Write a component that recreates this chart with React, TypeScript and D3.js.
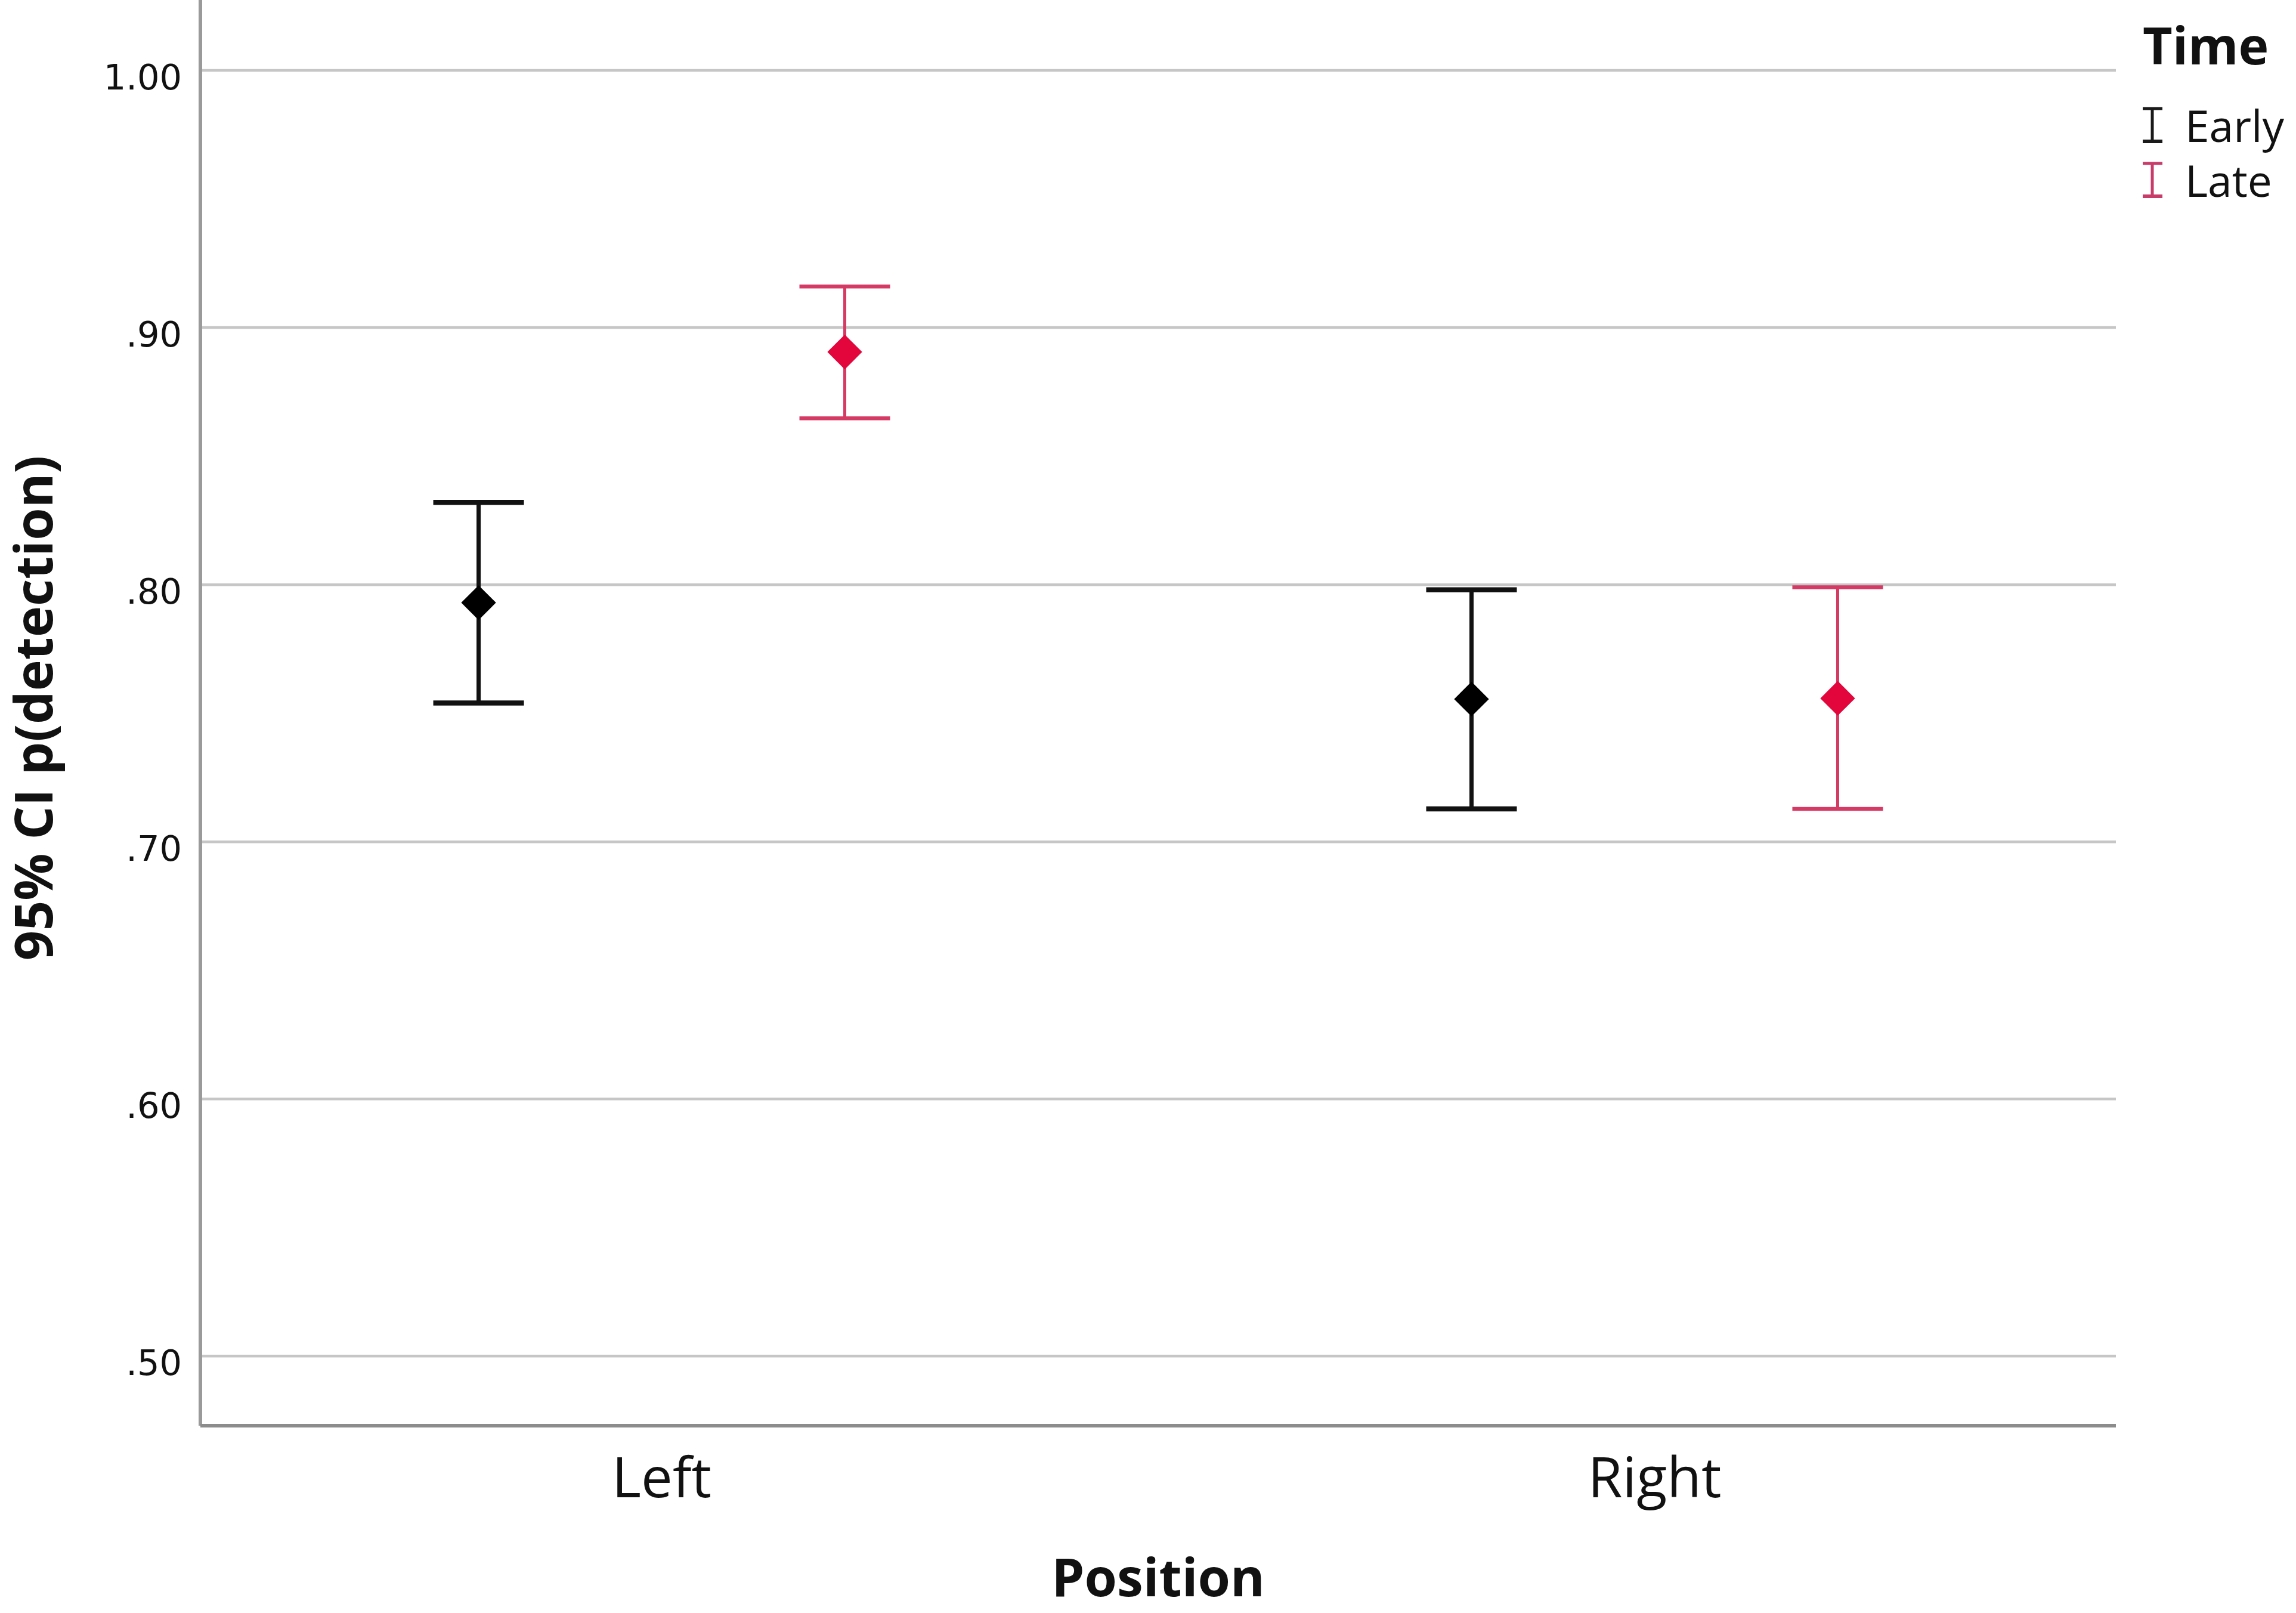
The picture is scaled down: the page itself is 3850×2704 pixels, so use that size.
import React from "react";
import * as d3 from "d3";

// values (95% CI of p(detection))
const positions = ["Left", "Right"];
const times = ["Early", "Late"];
const means = [
  [0.793, 0.8905],
  [0.7555, 0.7558],
];
const lower = [
  [0.754, 0.8647],
  [0.7128, 0.7128],
];
const upper = [
  [0.832, 0.916],
  [0.798, 0.799],
];
const yTicks = [0.5, 0.6, 0.7, 0.8, 0.9, 1.0];

const W = 3850;
const H = 2704;
const plot = { left: 336, right: 3548, top: 0, bottom: 2390 };

const barColor: Record<string, string> = { Early: "#111111", Late: "#d43a63" };
const dotColor: Record<string, string> = { Early: "#000000", Late: "#e2063c" };
const barWidth: Record<string, number> = { Early: 7, Late: 5 };

const fmt = (v: number) => (v >= 1 ? d3.format(".2f")(v) : d3.format(".2f")(v).replace(/^0/, ""));

const App: React.FC = () => {
  const x = d3.scalePoint<string>().domain(positions).range([plot.left, plot.right]).padding(0.4646);
  const dodge = d3.scalePoint<string>().domain(times).range([-307, 307]);
  const y = d3.scaleLinear().domain([0.4729, 1.0274]).range([plot.bottom, plot.top]);
  const diamond = d3.symbol().type(d3.symbolSquare).size(1700)();
  const capHalf = 76;

  const points = positions.flatMap((p, i) =>
    times.map((t, j) => ({ p, t, m: means[i][j], lo: lower[i][j], hi: upper[i][j] }))
  );

  return (
    <svg
      width={W}
      height={H}
      style={{ position: "absolute", left: 0, top: 0, background: "#fff" }}
    >
      {/* gridlines */}
      <g>
        {yTicks.map((t) => (
          <line key={t} x1={plot.left} x2={plot.right} y1={y(t)} y2={y(t)} stroke="#c6c6c6" strokeWidth={4.5} />
        ))}
      </g>
      {/* axes */}
      <line x1={plot.left} x2={plot.left} y1={plot.top} y2={plot.bottom} stroke="#9a9a9a" strokeWidth={6} />
      <line x1={plot.left} x2={plot.right} y1={plot.bottom} y2={plot.bottom} stroke="#8c8c8c" strokeWidth={6} />

      {/* tick labels */}
      <g fontFamily="DejaVu Sans" fontSize={59} fill="#111" textAnchor="end">
        {yTicks.map((t) => (
          <text key={t} x={305} y={y(t) + 32}>
            {fmt(t)}
          </text>
        ))}
      </g>
      <g fontFamily="Open Sans" fontSize={94} fill="#111" textAnchor="middle">
        {positions.map((p) => (
          <text key={p} x={x(p)} y={2510}>
            {p}
          </text>
        ))}
      </g>

      {/* axis titles */}
      <text x={(plot.left + plot.right) / 2} y={2676} fontFamily="Open Sans" fontWeight="bold" fontSize={88} textAnchor="middle" fill="#111">
        Position
      </text>
      <text
        transform={`translate(88, ${(plot.top + plot.bottom) / 2 - 8}) rotate(-90)`}
        fontFamily="Open Sans"
        fontWeight="bold"
        fontSize={88}
        textAnchor="middle"
        fill="#111"
      >
        95% CI p(detection)
      </text>

      {/* error bars */}
      <g>
        {points.map((d) => {
          const cx = (x(d.p) ?? 0) + (dodge(d.t) ?? 0);
          const c = barColor[d.t];
          const sw = barWidth[d.t];
          return (
            <g key={d.p + d.t}>
              <line x1={cx} x2={cx} y1={y(d.hi)} y2={y(d.lo)} stroke={c} strokeWidth={sw} />
              <line x1={cx - capHalf} x2={cx + capHalf} y1={y(d.hi)} y2={y(d.hi)} stroke={c} strokeWidth={sw + 1.5} />
              <line x1={cx - capHalf} x2={cx + capHalf} y1={y(d.lo)} y2={y(d.lo)} stroke={c} strokeWidth={sw + 1.5} />
              <path d={diamond ?? ""} transform={`translate(${cx},${y(d.m)}) rotate(45)`} fill={dotColor[d.t]} />
            </g>
          );
        })}
      </g>

      {/* legend */}
      <g fontFamily="Open Sans" fill="#111">
        <text x={3593} y={108} fontWeight="bold" fontSize={86}>
          Time
        </text>
        {times.map((t, i) => {
          const base = 238 + i * 92;
          const c = t === "Early" ? "#1a1a1a" : "#c83c6a";
          return (
            <g key={t}>
              <line x1={3609} x2={3609} y1={base - 56} y2={base} stroke={c} strokeWidth={5} />
              <line x1={3593} x2={3626} y1={base - 56} y2={base - 56} stroke={c} strokeWidth={5} />
              <line x1={3593} x2={3626} y1={base - 1} y2={base - 1} stroke={c} strokeWidth={6} />
              <text x={3664} y={base} fontSize={73}>
                {t}
              </text>
            </g>
          );
        })}
      </g>
    </svg>
  );
};

export default App;
